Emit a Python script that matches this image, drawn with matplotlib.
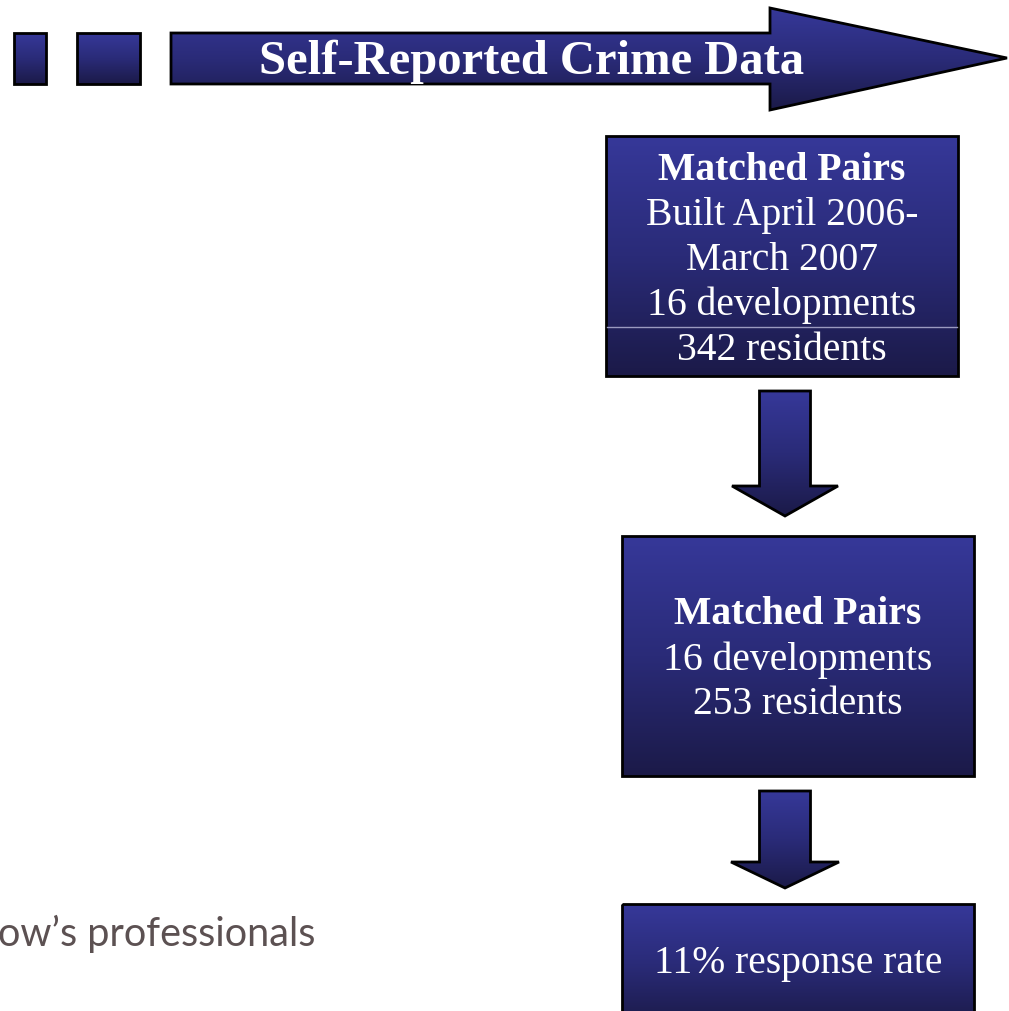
import numpy as np
import matplotlib
matplotlib.use("Agg")
import matplotlib.pyplot as plt
from matplotlib.patches import Polygon
from matplotlib.colors import LinearSegmentedColormap

# texts of the flow diagram
title = "Self-Reported Crime Data"
box1_lines = ["Matched Pairs", "Built April 2006-", "March 2007", "16 developments", "342 residents"]
box2_lines = ["Matched Pairs", "16 developments", "253 residents"]
box3_lines = ["11% response rate"]
footer = "ow\u2019s professionals"

W, H = 1009, 1011
fig = plt.figure(figsize=(W / 100, H / 100), dpi=100)
ax = fig.add_axes([0, 0, 1, 1])
ax.axis("off")

cmap = LinearSegmentedColormap.from_list("navy", ["#363899", "#2a2b78", "#1b1a48"])
grad = np.linspace(0, 1, 256).reshape(-1, 1)
FS = 28.5


def shape(pts, lw=2.0):
    pts = np.array(pts, dtype=float)
    p = Polygon(pts, closed=True, facecolor="none", edgecolor="black", lw=lw, zorder=3)
    ax.add_patch(p)
    x0, x1 = pts[:, 0].min(), pts[:, 0].max()
    y0, y1 = pts[:, 1].min(), pts[:, 1].max()
    im = ax.imshow(grad, cmap=cmap, aspect="auto", extent=(x0, x1, y1, y0),
                   origin="upper", zorder=2, interpolation="bilinear")
    im.set_clip_path(p)


def rect(x0, y0, x1, y1):
    shape([(x0, y0), (x1, y0), (x1, y1), (x0, y1)])


def down_arrow(xc, y0, yneck, ytip, sw, hw):
    shape([(xc - sw, y0), (xc + sw, y0), (xc + sw, yneck), (xc + hw, yneck),
           (xc, ytip), (xc - hw, yneck), (xc - sw, yneck)])


def lines(xc, ys, texts, bold_first=True):
    for i, (t, y) in enumerate(zip(texts, ys)):
        ax.text(xc, y + 3, t, color="white", fontsize=FS, family="Liberation Serif",
                fontweight="bold" if (i == 0 and bold_first) else "normal",
                ha="center", va="center", zorder=4)


# top banner
rect(14, 33, 46, 84)
rect(77, 33, 140, 84)
shape([(171, 33), (770, 33), (770, 8), (1007, 58), (770, 110), (770, 84), (171, 84)])
ax.text(532, 62, title, color="white", fontsize=35, fontweight="bold",
        family="Liberation Serif", ha="center", va="center", zorder=4)

# box 1
rect(606, 136, 958, 376)
ax.plot([607, 957], [327, 327], color="#9a9ac0", lw=1, zorder=4)
lines(782, [167, 213, 257, 302, 347], box1_lines)

down_arrow(785, 391, 486, 516, 25.5, 53)

# box 2
rect(622, 536, 974, 776)
lines(798, [612, 657, 702], box2_lines)

down_arrow(785, 791, 862, 888, 25.5, 54)

# box 3
rect(622, 904, 974, 1025)
lines(798, [961], box3_lines, bold_first=False)

ax.text(-2, 934, footer, color="#5c5152", fontsize=28.5, family="Lato",
        ha="left", va="center", zorder=4)

ax.set_xlim(0, W)
ax.set_ylim(H, 0)
fig.savefig("out.png", dpi=100, facecolor="white")
